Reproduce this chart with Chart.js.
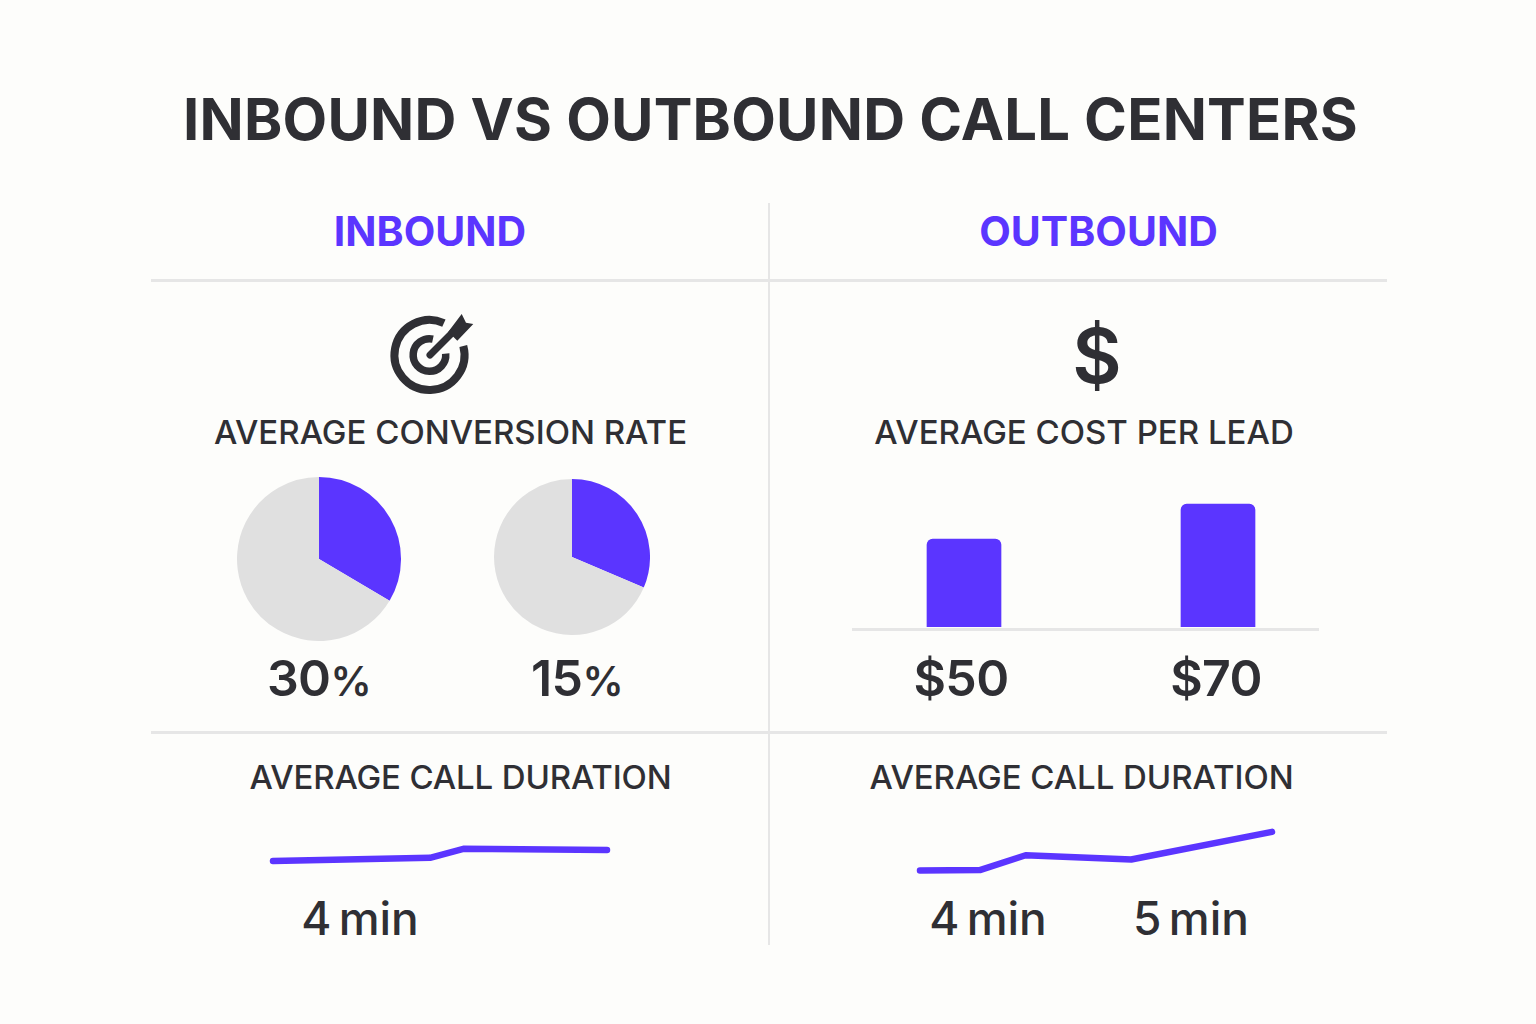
<!DOCTYPE html>
<html>
<head>
<meta charset="utf-8">
<title>Inbound vs Outbound Call Centers</title>
<script src="https://cdn.jsdelivr.net/npm/chart.js@4/dist/chart.umd.min.js"></script>
<style>
  html, body { margin: 0; padding: 0; background: #fdfdfb; }
  #page { position: relative; width: 1536px; height: 1024px; overflow: hidden; font-family: Inter, sans-serif; color: #2f2f34; }
  .t { position: absolute; white-space: nowrap; line-height: 1; transform: translate(-50%, -50%); }
  .title { font-size: 58px; font-weight: 700; letter-spacing: 0.2px; }
  .head { font-size: 41px; font-weight: 700; color: #5b35ff; }
  .sub { font-size: 33px; font-weight: 500; }
  .big { font-size: 50px; font-weight: 600; letter-spacing: -0.6px; }
  .min { font-size: 46px; font-weight: 500; word-spacing: -5px; }
  .pct { font-size: 0.82em; }
  .rule { position: absolute; background: #e6e6e6; }
  canvas { position: absolute; display: block; }
  svg { position: absolute; }
</style>
</head>
<body>
<div id="page">
  <div class="t title" style="left:770.5px;top:119px">INBOUND VS OUTBOUND CALL CENTERS</div>
  <div class="t head" style="left:430px;top:231px">INBOUND</div>
  <div class="t head" style="left:1098.5px;top:231px">OUTBOUND</div>

  <div class="rule" style="left:768px;top:203px;width:2px;height:742px"></div>
  <div class="rule" style="left:151px;top:279px;width:1236px;height:3px"></div>
  <div class="rule" style="left:151px;top:731px;width:1236px;height:3px"></div>

  <svg style="left:370px;top:300px" width="120" height="110" viewBox="0 0 120 110">
    <path d="M73.9 23.1 A35 35 0 1 0 93.3 46" fill="none" stroke="#2f2f34" stroke-width="8"/>
    <path d="M62.9 39.1 A16.3 16.3 0 1 0 75.7 53.6" fill="none" stroke="#2f2f34" stroke-width="7.5"/>
    <path d="M60 55 L83 32" fill="none" stroke="#2f2f34" stroke-width="7" stroke-linecap="round"/>
    <path d="M78.3 31.7 L91.7 14 L96 22.7 L103.3 24 L87.3 40.7 Z" fill="#2f2f34"/>
  </svg>
  <div class="t" style="left:1097px;top:355px;font-size:76px;font-weight:600">$</div>

  <div class="t sub" style="left:450.5px;top:432px">AVERAGE CONVERSION RATE</div>
  <div class="t sub" style="left:1084px;top:432px">AVERAGE COST PER LEAD</div>
  <div class="t sub" style="left:460.5px;top:777px;letter-spacing:-0.15px">AVERAGE CALL DURATION</div>
  <div class="t sub" style="left:1081.5px;top:777px;letter-spacing:-0.05px">AVERAGE CALL DURATION</div>

  <canvas id="pie-a" style="left:237px;top:477px" width="164" height="164"></canvas>
  <canvas id="pie-b" style="left:494px;top:479px" width="156" height="156"></canvas>
  <canvas id="cost" style="left:837px;top:480px" width="508" height="147"></canvas>
  <div class="rule" style="left:852px;top:628px;width:467px;height:3px"></div>
  <canvas id="line-a" style="left:252px;top:820px" width="376" height="70"></canvas>
  <canvas id="line-b" style="left:898px;top:810px" width="395" height="80"></canvas>

  <div class="t big" id="pct-a" style="left:319px;top:678px"></div>
  <div class="t big" id="pct-b" style="left:577px;top:678px"></div>
  <div class="t big" id="cost-a" style="left:961px;top:678px"></div>
  <div class="t big" id="cost-b" style="left:1216px;top:678px"></div>
  <div class="t min" id="min-a" style="left:360px;top:918px"></div>
  <div class="t min" id="min-b" style="left:988px;top:918px"></div>
  <div class="t min" id="min-c" style="left:1191px;top:918px"></div>
</div>

<script>
  const PURPLE = '#5b35ff';
  const GREY = '#e0e0e0';

  // pie slices as drawn (the printed labels do not quite agree with them)
  const pieLabels = ['30%', '15%'];
  const pieInbound = [33.5, 66.5];
  const pieOutbound = [31.4, 68.6];

  const costCategories = ['Inbound', 'Outbound'];
  const costValues = [50, 70];
  const costLabels = ['$50', '$70'];

  const inboundTime = [0, 0.47, 0.57, 1];
  const inboundMinutes = [4.0, 4.08, 4.31, 4.28];
  const outboundTime = [0, 0.17, 0.3, 0.6, 1];
  const outboundMinutes = [4.0, 4.01, 4.39, 4.28, 4.99];
  const durationLabels = ['4 min', '4 min', '5 min'];

  Chart.defaults.animation = false;
  Chart.defaults.responsive = false;
  Chart.defaults.plugins.legend.display = false;
  Chart.defaults.plugins.tooltip.enabled = false;

  function pie(id, values) {
    new Chart(document.getElementById(id), {
      type: 'pie',
      data: {
        labels: ['Converted', 'Other'],
        datasets: [{ data: values, backgroundColor: [PURPLE, GREY], borderWidth: 0 }],
      },
    });
  }
  pie('pie-a', pieInbound);
  pie('pie-b', pieOutbound);

  new Chart(document.getElementById('cost'), {
    type: 'bar',
    data: {
      labels: costCategories,
      datasets: [{
        data: costValues,
        backgroundColor: PURPLE,
        barThickness: 74,
        borderRadius: { topLeft: 6, topRight: 6 },
        borderSkipped: 'bottom',
      }],
    },
    options: {
      scales: {
        x: { display: false },
        y: { display: false, min: 0, max: 147 / (123 / 70) },
      },
    },
  });

  // pad leaves room for the round line caps, clip is off so they are not cut
  function line(id, xs, ys, yMin, yMax, pad) {
    new Chart(document.getElementById(id), {
      type: 'line',
      data: {
        datasets: [{
          data: xs.map((x, i) => ({ x: x, y: ys[i] })),
          borderColor: PURPLE,
          borderWidth: 6.5,
          borderCapStyle: 'round',
          borderJoinStyle: 'round',
          pointRadius: 0,
          tension: 0,
          clip: false,
        }],
      },
      options: {
        layout: { padding: pad },
        scales: {
          x: { type: 'linear', display: false, min: 0, max: 1 },
          y: { display: false, min: yMin, max: yMax },
        },
      },
    });
  }
  line('line-a', inboundTime, inboundMinutes, 3.256, 5.05, { left: 21, right: 21, top: 0, bottom: 0 });
  line('line-b', outboundTime, outboundMinutes, 3.5, 5.55, { left: 22, right: 21, top: 0, bottom: 0 });

  function pct(text) { return text.replace('%', '<span class="pct">%</span>'); }
  document.getElementById('pct-a').innerHTML = pct(pieLabels[0]);
  document.getElementById('pct-b').innerHTML = pct(pieLabels[1]);
  document.getElementById('cost-a').textContent = costLabels[0];
  document.getElementById('cost-b').textContent = costLabels[1];
  document.getElementById('min-a').textContent = durationLabels[0];
  document.getElementById('min-b').textContent = durationLabels[1];
  document.getElementById('min-c').textContent = durationLabels[2];
</script>
</body>
</html>
